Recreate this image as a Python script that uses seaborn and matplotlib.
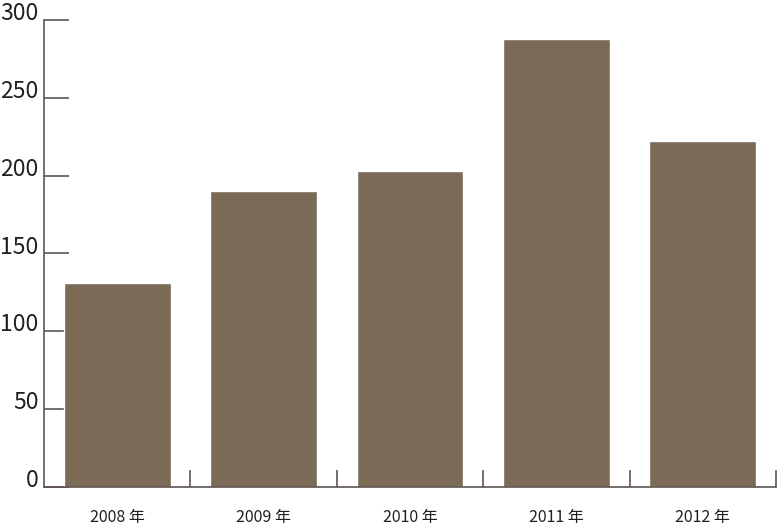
import matplotlib
matplotlib.use('Agg')
import matplotlib.pyplot as plt
import seaborn as sns
import pandas as pd

# ── Data ──────────────────────────────────────────────────────────────────────
years  = ['2008 年', '2009 年', '2010 年', '2011 年', '2012 年']
values = [131, 190, 203, 288, 222]
yticks = [0, 50, 100, 150, 200, 250, 300]

BAR_COLOR  = '#7a6a56'
AXIS_COLOR = '#5e5550'

sns.set_style('white')
plt.rcParams['font.family'] = ['Noto Sans CJK JP', 'DejaVu Sans']

df = pd.DataFrame({'year': years, 'value': values})

fig = plt.figure(figsize=(7.77, 5.26), dpi=100)
ax = fig.add_axes([44/777, 39/526, 732/777, 467/526])

sns.barplot(data=df, x='year', y='value', color=BAR_COLOR, width=0.73,
            saturation=1, ax=ax)

ax.set_xlim(-0.5, len(years) - 0.5)
ax.set_ylim(0, 300)
ax.set_xlabel('')
ax.set_ylabel('')

for s in ['top', 'right']:
    ax.spines[s].set_visible(False)
for s in ['left', 'bottom']:
    ax.spines[s].set_color(AXIS_COLOR)
    ax.spines[s].set_linewidth(1.2)

# y ticks: inward, labels sitting on top of the tick line
ax.set_yticks(yticks)
ax.tick_params(axis='y', left=True, direction='in', length=18, width=1.2,
               color=AXIS_COLOR, labelsize=16.5, pad=4, labelcolor='#231f20')
for lbl in ax.get_yticklabels():
    lbl.set_verticalalignment('baseline')

# x: separators between categories, labels centred under bars
ax.set_xticks(range(len(years)))
ax.set_xticklabels(years)
ax.set_xticks([i + 0.5 for i in range(len(years))], minor=True)
ax.tick_params(axis='x', which='major', bottom=True, length=0, labelsize=11.5,
               pad=16, labelcolor='#231f20')
ax.tick_params(axis='x', which='minor', bottom=True, direction='in', length=12,
               width=1.2, color=AXIS_COLOR)

plt.savefig('out.png', dpi=100, facecolor='white')
